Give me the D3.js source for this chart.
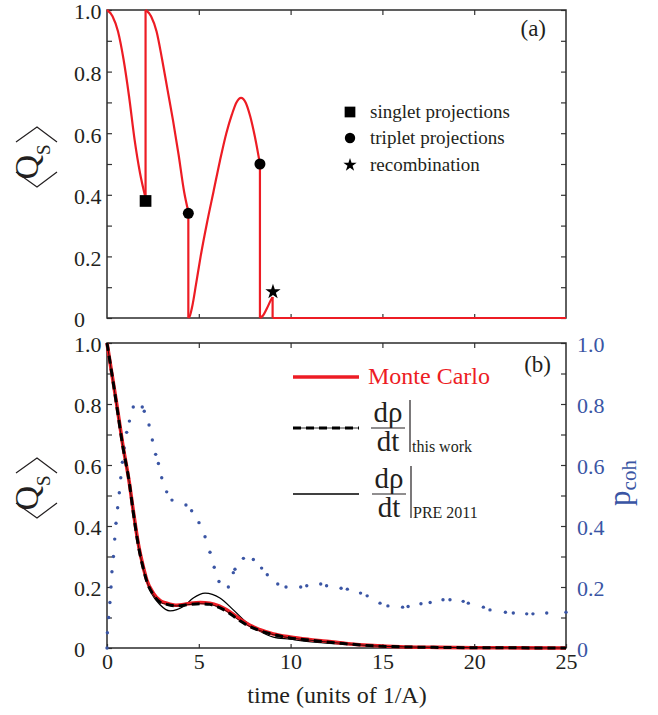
<!DOCTYPE html>
<html>
<head>
<meta charset="utf-8">
<script src="https://cdn.jsdelivr.net/npm/d3@7"></script>
<style>
body { margin: 0; background: #fff; }
svg text { font-family: "Liberation Serif", "Times New Roman", serif; }
</style>
</head>
<body>
<div id="chart"></div>
<script>
// ---- data ----
// panel (a): one Monte Carlo trajectory, split at the projection / recombination jumps
const trajT = [
  [0, 0.3, 0.6, 0.9, 1.2, 1.5, 1.8, 2.1],
  [2.1, 2.4, 2.7, 3.0, 3.3, 3.6, 3.9, 4.2, 4.43],
  [4.43, 4.52, 4.65, 4.85, 5.1, 5.45, 5.8, 6.15, 6.5, 6.8, 7.05, 7.3, 7.55, 7.8, 8.05, 8.33],
  [8.33, 8.5, 8.7, 8.9, 9.02],
  [9.02, 25]
];
const trajQ = [
  [1.0, 0.98, 0.93, 0.84, 0.72, 0.58, 0.47, 0.39],
  [1.0, 0.98, 0.93, 0.84, 0.74, 0.64, 0.53, 0.41, 0.345],
  [0, 0.008, 0.04, 0.11, 0.2, 0.31, 0.41, 0.51, 0.6, 0.66, 0.7, 0.715, 0.7, 0.655, 0.59, 0.5],
  [0, 0.008, 0.03, 0.055, 0.068],
  [0, 0]
];
const singletT = [2.1],  singletQ = [0.38];
const tripletT = [4.43, 8.33], tripletQ = [0.34, 0.5];
const recombT = [9.04], recombQ = [0.085];

// panel (b)
const timeMC = [0, 0.25, 0.49, 0.85, 1.22, 1.43, 1.71, 2.0, 2.16, 2.52, 2.9, 3.25, 3.8, 4.4, 5.07, 5.6, 6.1, 6.52, 7.24, 7.79, 8.33, 9.06, 9.97, 11, 11.78, 13, 14.5, 15.96, 18, 20, 22.5, 25];
const qsMonteCarlo = [1, 0.905, 0.815, 0.67, 0.54, 0.45, 0.34, 0.26, 0.224, 0.18, 0.155, 0.147, 0.14, 0.145, 0.149, 0.147, 0.138, 0.125, 0.095, 0.074, 0.06, 0.046, 0.036, 0.028, 0.023, 0.015, 0.008, 0.004, 0.002, 0.001, 0.0005, 0];
const qsThisWork = [1, 0.905, 0.81, 0.665, 0.54, 0.445, 0.335, 0.255, 0.22, 0.175, 0.15, 0.143, 0.138, 0.142, 0.145, 0.143, 0.133, 0.12, 0.089, 0.07, 0.057, 0.044, 0.033, 0.026, 0.021, 0.014, 0.007, 0.004, 0.002, 0.001, 0.0005, 0];
const timePRE = [0, 0.25, 0.49, 0.85, 1.22, 1.43, 1.71, 2.0, 2.34, 2.89, 3.43, 3.8, 4.16, 4.7, 5.34, 6.15, 6.88, 7.6, 8.33, 9.06, 9.97, 11, 11.78, 13, 14.5, 16, 18, 20, 25];
const qsPRE2011 = [1, 0.905, 0.81, 0.665, 0.54, 0.44, 0.33, 0.25, 0.19, 0.142, 0.122, 0.126, 0.136, 0.164, 0.18, 0.164, 0.125, 0.084, 0.055, 0.036, 0.029, 0.021, 0.017, 0.012, 0.006, 0.003, 0.001, 0.0005, 0];
const pcohT = [0, 0.02, 0.09, 0.16, 0.22, 0.27, 0.35, 0.42, 0.49, 0.58, 0.67, 0.75, 0.84, 0.94, 1.07, 1.22, 1.43, 1.92, 2.03, 2.29, 2.47, 2.65, 2.8, 2.98, 3.25, 3.54, 4.3, 4.61, 5.01, 5.34, 5.61, 5.84, 6.1, 6.61, 6.88, 6.97, 7.43, 7.97, 8.42, 8.73, 9.3, 9.75, 10.55, 10.88, 11.64, 11.96, 12.75, 13.09, 13.81, 14.17, 14.87, 15.3, 16.1, 16.4, 17.1, 17.6, 18.3, 18.68, 19.4, 19.68, 20.5, 20.86, 21.7, 22.13, 22.86, 23.2, 23.95, 25];
const pcoh = [0, 0.05, 0.1, 0.149, 0.2, 0.25, 0.3, 0.357, 0.409, 0.46, 0.509, 0.558, 0.609, 0.656, 0.707, 0.744, 0.79, 0.79, 0.776, 0.731, 0.682, 0.635, 0.605, 0.558, 0.512, 0.485, 0.469, 0.45, 0.411, 0.365, 0.314, 0.265, 0.218, 0.2, 0.247, 0.258, 0.294, 0.29, 0.262, 0.24, 0.21, 0.2, 0.2, 0.204, 0.21, 0.204, 0.196, 0.193, 0.18, 0.171, 0.147, 0.138, 0.134, 0.136, 0.145, 0.149, 0.158, 0.158, 0.153, 0.147, 0.134, 0.125, 0.117, 0.115, 0.112, 0.112, 0.115, 0.117];

// ticks
const xTicks = [0, 5, 10, 15, 20, 25];
const xTickLabels = ["0", "5", "10", "15", "20", "25"];
const xInnerTicks = [5, 10, 15, 20];
const yTicks = [0, 0.1, 0.2, 0.3, 0.4, 0.5, 0.6, 0.7, 0.8, 0.9, 1.0];
const yTickLabels = ["0", "", "0.2", "", "0.4", "", "0.6", "", "0.8", "", "1.0"];

// ---- layout ----
const width = 658, height = 715;
const left = 107, right = 566;
const panelA = {top: 10, bottom: 318};
const panelB = {top: 343, bottom: 648};
const red = "#ed1c24", blue = "#3a55a4", ink = "#231f20";
const serif = '"Liberation Serif", "Times New Roman", serif';

const svg = d3.select("#chart").append("svg")
  .attr("width", width).attr("height", height);

const x = d3.scaleLinear().domain([0, 25]).range([left, right]);
const yA = d3.scaleLinear().domain([0, 1]).range([panelA.bottom, panelA.top]);
const yB = d3.scaleLinear().domain([0, 1]).range([panelB.bottom, panelB.top]);
const yP = d3.scaleLinear().domain([0, 1]).range([panelB.bottom, panelB.top]);

function labelOf(v) { return yTickLabels[yTicks.indexOf(v)]; }

function frame(y, panel, withX, withRight) {
  // left
  const gl = svg.append("g").attr("transform", `translate(${left},0)`)
    .call(d3.axisLeft(y).tickValues(yTicks).tickSize(-5).tickFormat(labelOf));
  gl.selectAll("text").attr("x", 74 - left).attr("dy", "0.4em").attr("text-anchor", "start");
  // right
  const gr = svg.append("g").attr("transform", `translate(${right},0)`)
    .call(d3.axisRight(y).tickValues(yTicks).tickSize(-5).tickFormat(withRight ? labelOf : () => ""));
  gr.selectAll("text").attr("x", 11).attr("dy", "0.4em").attr("text-anchor", "start").attr("fill", blue);
  // top
  svg.append("g").attr("transform", `translate(0,${panel.top})`)
    .call(d3.axisTop(x).tickValues(xInnerTicks).tickSize(-5).tickFormat(() => ""));
  // bottom
  const gb = svg.append("g").attr("transform", `translate(0,${panel.bottom})`)
    .call(d3.axisBottom(x).tickValues(withX ? xTicks : xInnerTicks).tickSize(-4)
      .tickFormat(withX ? (d => xTickLabels[xTicks.indexOf(d)]) : () => ""));
  gb.selectAll("text").attr("y", 21).attr("dy", null);

  svg.selectAll("g .domain").remove();
  svg.selectAll("g .tick line").attr("stroke", "#333").attr("stroke-width", 1.2);
  svg.selectAll("g .tick text").style("font-size", "22px").style("font-family", serif);
  gl.selectAll("text").attr("fill", ink);
  gb.selectAll("text").attr("fill", ink);

  svg.append("rect")
    .attr("x", left).attr("y", panel.top)
    .attr("width", right - left).attr("height", panel.bottom - panel.top)
    .attr("fill", "none").attr("stroke", "#2b2b2b").attr("stroke-width", 1.5);
}

frame(yA, panelA, false, false);
frame(yB, panelB, true, true);

// ---- panel (a) ----
const lineA = d3.line().x(d => x(d[0])).y(d => yA(d[1])).curve(d3.curveMonotoneX);
trajT.forEach((ts, i) => {
  const pts = ts.map((t, j) => [t, trajQ[i][j]]);
  svg.append("path").datum(pts).attr("d", lineA)
    .attr("fill", "none").attr("stroke", red).attr("stroke-width", 2.2);
  if (i < trajT.length - 1) {
    // the jump to the next segment
    const a = pts[pts.length - 1], b = [trajT[i + 1][0], trajQ[i + 1][0]];
    svg.append("line")
      .attr("x1", x(a[0])).attr("y1", yA(a[1]))
      .attr("x2", x(b[0])).attr("y2", yA(b[1]))
      .attr("stroke", red).attr("stroke-width", 2.2);
  }
});

function markers(ts, qs, type, size) {
  svg.append("g").selectAll("path").data(ts.map((t, i) => [t, qs[i]])).join("path")
    .attr("transform", d => `translate(${x(d[0])},${yA(d[1])})`)
    .attr("d", d3.symbol().type(type).size(size))
    .attr("fill", "#000");
}
markers(singletT, singletQ, d3.symbolSquare, 137);
markers(tripletT, tripletQ, d3.symbolCircle, 95);
markers(recombT, recombQ, d3.symbolStar, 72);

svg.append("text").attr("x", 546).attr("y", 36).attr("text-anchor", "end")
  .style("font-size", "23px").attr("fill", ink).text("(a)");

const legA = [
  {type: d3.symbolSquare, size: 115, label: "singlet projections", y: 118},
  {type: d3.symbolCircle, size: 85, label: "triplet projections", y: 144},
  {type: d3.symbolStar, size: 55, label: "recombination", y: 171}
];
legA.forEach(l => {
  svg.append("path").attr("transform", `translate(350,${l.y - 6})`)
    .attr("d", d3.symbol().type(l.type).size(l.size)).attr("fill", "#000");
  svg.append("text").attr("x", 370).attr("y", l.y).style("font-size", "19px")
    .attr("fill", ink).text(l.label);
});

// ---- panel (b) ----
const lineB = d3.line().x(d => x(d[0])).y(d => yB(d[1])).curve(d3.curveMonotoneX);

svg.append("g").selectAll("circle").data(pcohT.map((t, i) => [t, pcoh[i]])).join("circle")
  .attr("cx", d => x(d[0])).attr("cy", d => yP(d[1])).attr("r", 1.7).attr("fill", blue);

svg.append("path").datum(timePRE.map((t, i) => [t, qsPRE2011[i]])).attr("d", lineB)
  .attr("fill", "none").attr("stroke", "#000").attr("stroke-width", 1.3);
svg.append("path").datum(timeMC.map((t, i) => [t, qsMonteCarlo[i]])).attr("d", lineB)
  .attr("fill", "none").attr("stroke", red).attr("stroke-width", 3.6);
const thisWork = timeMC.map((t, i) => [t, qsThisWork[i]]);
svg.append("path").datum(thisWork).attr("d", lineB)
  .attr("fill", "none").attr("stroke", "#000").attr("stroke-width", 0.8);
svg.append("path").datum(thisWork).attr("d", lineB)
  .attr("fill", "none").attr("stroke", "#000").attr("stroke-width", 3)
  .attr("stroke-dasharray", "8,5");

svg.append("text").attr("x", 551).attr("y", 372).attr("text-anchor", "end")
  .style("font-size", "23px").attr("fill", ink).text("(b)");

// legend (b)
svg.append("line").attr("x1", 293).attr("x2", 359).attr("y1", 377).attr("y2", 377)
  .attr("stroke", red).attr("stroke-width", 3.6);
svg.append("text").attr("x", 368).attr("y", 384).style("font-size", "24px")
  .attr("fill", red).text("Monte Carlo");

svg.append("line").attr("x1", 293).attr("x2", 359).attr("y1", 428).attr("y2", 428)
  .attr("stroke", "#000").attr("stroke-width", 0.8);
svg.append("line").attr("x1", 293).attr("x2", 359).attr("y1", 428).attr("y2", 428)
  .attr("stroke", "#000").attr("stroke-width", 3).attr("stroke-dasharray", "8,5");
svg.append("line").attr("x1", 293).attr("x2", 359).attr("y1", 494).attr("y2", 494)
  .attr("stroke", "#000").attr("stroke-width", 1.3);

function fraction(cx, barY, sub, subX) {
  svg.append("text").attr("x", cx).attr("y", barY - 6).attr("text-anchor", "middle")
    .style("font-size", "29px").attr("fill", ink).text("dρ");
  svg.append("line").attr("x1", cx - 17).attr("x2", cx + 17).attr("y1", barY).attr("y2", barY)
    .attr("stroke", ink).attr("stroke-width", 1.2);
  svg.append("text").attr("x", cx).attr("y", barY + 23).attr("text-anchor", "middle")
    .style("font-size", "29px").attr("fill", ink).text("dt");
  svg.append("line").attr("x1", subX - 2).attr("x2", subX - 2).attr("y1", barY - 28).attr("y2", barY + 24)
    .attr("stroke", ink).attr("stroke-width", 1.2);
  svg.append("text").attr("x", subX).attr("y", barY + 24).style("font-size", "16px")
    .attr("fill", ink).text(sub);
}
fraction(388, 428, "this work", 412);
fraction(389, 494, "PRE 2011", 413);

// ---- axis titles ----
function qsLabel(cx, cy) {
  const g = svg.append("g").attr("transform", `translate(${cx},${cy}) rotate(-90)`);
  g.append("path").attr("d", "M-15,-21L-30,0L-15,20").attr("fill", "none")
    .attr("stroke", ink).attr("stroke-width", 1.2);
  g.append("path").attr("d", "M15,-21L30,0L15,20").attr("fill", "none")
    .attr("stroke", ink).attr("stroke-width", 1.2);
  const t = g.append("text").attr("x", -5).attr("y", 1).attr("text-anchor", "middle")
    .attr("fill", ink);
  t.append("tspan").style("font-size", "34px").text("Q");
  t.append("tspan").attr("dy", 12).style("font-size", "19px").text("S");
}
qsLabel(37, 157);
qsLabel(37, 488);

const pl = svg.append("text").attr("transform", "translate(630,483) rotate(-90)")
  .attr("text-anchor", "middle").attr("fill", blue);
pl.append("tspan").style("font-size", "31px").text("p");
pl.append("tspan").attr("dy", 6).style("font-size", "21px").text("coh");

svg.append("text").attr("x", 337).attr("y", 703).attr("text-anchor", "middle")
  .style("font-size", "24px").attr("fill", ink).text("time (units of 1/A)");
</script>
</body>
</html>
